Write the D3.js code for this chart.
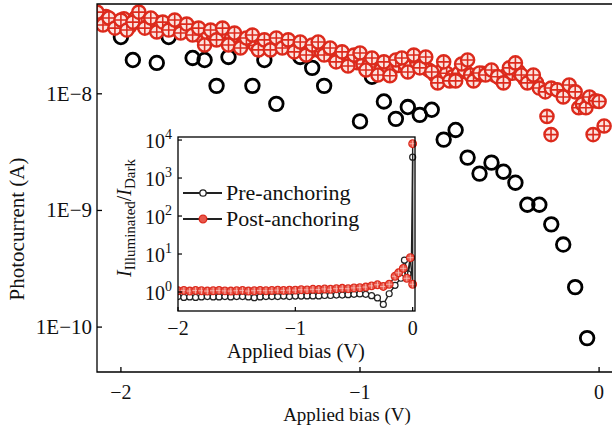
<!DOCTYPE html>
<html>
<head>
<meta charset="utf-8">
<script src="https://cdn.jsdelivr.net/npm/d3@7"></script>
<style>
body { margin: 0; background: #fff; }
text { font-family: "Liberation Serif", serif; fill: #111; }
</style>
</head>
<body>
<script>
// ---------- data (main plot: photocurrent vs bias)
var preV = [-2.00, -1.95, -1.85, -1.80, -1.70, -1.65, -1.60, -1.55, -1.45, -1.40, -1.35,
            -1.25, -1.20, -1.15, -1.00, -0.95, -0.90, -0.85, -0.80, -0.75, -0.70, -0.65,
            -0.60, -0.55, -0.50, -0.45, -0.40, -0.35, -0.30, -0.25, -0.20, -0.15, -0.10, -0.05];
var preI = [3.07e-8, 1.95e-8, 1.84e-8, 3.07e-8, 2.03e-8, 1.95e-8, 1.17e-8, 2.07e-8, 1.17e-8, 1.95e-8, 8.2e-9,
            2.07e-8, 1.67e-8, 1.17e-8, 5.8e-9, 1.40e-8, 8.6e-9, 6.1e-9, 7.7e-9, 6.6e-9, 7.3e-9, 4.05e-9,
            4.9e-9, 2.84e-9, 2.07e-9, 2.57e-9, 2.15e-9, 1.73e-9, 1.12e-9, 1.12e-9, 7.6e-10, 5.1e-10, 2.2e-10, 8.05e-11];

// post-anchoring, first sweep
var postV = [-2.100, -2.075, -2.050, -2.025, -2.000, -1.975, -1.950, -1.925, -1.900, -1.875,
             -1.850, -1.825, -1.800, -1.775, -1.750, -1.725, -1.700, -1.675, -1.650, -1.625,
             -1.600, -1.575, -1.550, -1.525, -1.500, -1.475, -1.450, -1.425, -1.400, -1.375,
             -1.350, -1.325, -1.300, -1.275, -1.250, -1.225, -1.200, -1.175, -1.150, -1.125,
             -1.100, -1.075, -1.050, -1.025, -1.000, -0.975, -0.950, -0.925, -0.900, -0.875,
             -0.850, -0.825, -0.800, -0.775, -0.750, -0.725, -0.700, -0.675, -0.650, -0.625,
             -0.600, -0.575, -0.550, -0.525, -0.500, -0.475, -0.450, -0.425, -0.400, -0.375,
             -0.350, -0.325, -0.300, -0.275, -0.250, -0.225, -0.218, -0.201, -0.200, -0.175,
             -0.150, -0.125, -0.100, -0.085, -0.070, -0.055, -0.040, -0.025, -0.015, 0.000, 0.021];
var postI = [5.02e-8, 3.89e-8, 4.47e-8, 3.66e-8, 4.29e-8, 3.52e-8, 4.12e-8, 5.02e-8, 3.66e-8, 4.47e-8,
             3.39e-8, 4.12e-8, 3.52e-8, 4.29e-8, 3.32e-8, 3.96e-8, 3.19e-8, 3.66e-8, 2.62e-8, 3.52e-8,
             2.90e-8, 3.66e-8, 2.62e-8, 3.32e-8, 2.47e-8, 3.01e-8, 3.19e-8, 2.38e-8, 2.90e-8, 2.38e-8,
             3.01e-8, 2.47e-8, 2.90e-8, 2.29e-8, 2.78e-8, 2.15e-8, 2.62e-8, 2.78e-8, 2.15e-8, 2.47e-8,
             1.88e-8, 2.29e-8, 1.73e-8, 2.15e-8, 2.24e-8, 1.60e-8, 2.03e-8, 1.45e-8, 1.88e-8, 1.43e-8,
             1.95e-8, 2.03e-8, 1.54e-8, 2.15e-8, 1.67e-8, 2.07e-8, 1.54e-8, 1.24e-8, 1.88e-8, 1.29e-8,
             1.29e-8, 1.80e-8, 1.95e-8, 1.29e-8, 1.51e-8, 1.45e-8, 1.60e-8, 1.40e-8, 1.24e-8, 1.67e-8,
             1.84e-8, 1.45e-8, 1.24e-8, 1.45e-8, 1.12e-8, 1.04e-8, 6.4e-9, 4.47e-9, 1.12e-8, 1.08e-8,
             9.4e-9, 1.19e-8, 1.04e-8, 7.6e-9, 8.2e-9, 7.6e-9, 9.4e-9, 4.47e-9, 8.7e-9, 8.6e-9, 5.3e-9];

// post-anchoring, second sweep (interleaved)
var postV2 = [-2.0875, -2.0625, -2.0375, -2.0125, -1.9875, -1.9625, -1.9375, -1.9125, -1.8875, -1.8625,
              -1.8375, -1.8125, -1.7875, -1.7625, -1.7375, -1.7125, -1.6875, -1.6625, -1.6375, -1.6125,
              -1.5875, -1.5625, -1.5375, -1.5125, -1.4875, -1.4625, -1.4375, -1.4125, -1.3875, -1.3625,
              -1.3375, -1.3125, -1.2875, -1.2625, -1.2375, -1.2125, -1.1875, -1.1625, -1.1375, -1.1125,
              -1.0875, -1.0625, -1.0375, -1.0125, -0.9875, -0.9625, -0.9375, -0.9125, -0.8875, -0.8625,
              -0.8375, -0.8125, -0.7875, -0.7625, -0.7375, -0.7125, -0.6875, -0.6625, -0.6375, -0.6125,
              -0.5875, -0.5625, -0.5375, -0.5125, -0.4875, -0.4625, -0.4375, -0.4125, -0.3875, -0.3625,
              -0.3375, -0.3125, -0.2875, -0.2625];
var postI2 = [4.1e-8, 4.6e-8, 4.0e-8, 3.9e-8, 4.4e-8, 3.8e-8, 4.5e-8, 4.0e-8, 3.8e-8, 4.2e-8,
              3.7e-8, 3.9e-8, 3.6e-8, 3.9e-8, 3.5e-8, 3.7e-8, 3.3e-8, 3.1e-8, 3.3e-8, 3.0e-8,
              3.2e-8, 2.9e-8, 3.0e-8, 2.8e-8, 2.7e-8, 2.9e-8, 2.6e-8, 2.8e-8, 2.6e-8, 2.7e-8,
              2.6e-8, 2.7e-8, 2.5e-8, 2.4e-8, 2.5e-8, 2.3e-8, 2.4e-8, 2.3e-8, 2.2e-8, 2.1e-8,
              2.0e-8, 1.95e-8, 1.9e-8, 1.85e-8, 1.8e-8, 1.75e-8, 1.7e-8, 1.6e-8, 1.65e-8, 1.7e-8,
              1.75e-8, 1.8e-8, 1.7e-8, 1.85e-8, 1.75e-8, 1.6e-8, 1.45e-8, 1.55e-8, 1.5e-8, 1.4e-8,
              1.5e-8, 1.6e-8, 1.45e-8, 1.4e-8, 1.5e-8, 1.5e-8, 1.45e-8, 1.35e-8, 1.45e-8, 1.5e-8,
              1.55e-8, 1.35e-8, 1.3e-8, 1.25e-8];

var mainXTicks = [-2, -1, 0];
var mainYTicks = [1e-8, 1e-9, 1e-10];
var mainYTickLabels = ["1E\u22128", "1E\u22129", "1E\u221210"];

// ---------- data (inset: illuminated / dark ratio)
var inPreV = [-2.00, -1.95, -1.90, -1.85, -1.80, -1.75, -1.70, -1.65, -1.60, -1.55, -1.50, -1.45,
              -1.40, -1.35, -1.30, -1.25, -1.20, -1.15, -1.10, -1.05, -1.00, -0.95, -0.90, -0.85,
              -0.80, -0.75, -0.70, -0.65, -0.60, -0.55, -0.50, -0.45, -0.40, -0.35, -0.30, -0.25,
              -0.20, -0.15, -0.10, -0.07, -0.04, -0.01, 0.00];
var inPreR = [0.76, 0.72, 0.74, 0.72, 0.74, 0.76, 0.74, 0.74, 0.76, 0.74, 0.76, 0.76,
              0.74, 0.71, 0.74, 0.76, 0.76, 0.76, 0.78, 0.76, 0.78, 0.78, 0.79, 0.79,
              0.79, 0.81, 0.81, 0.83, 0.83, 0.85, 0.87, 0.89, 0.87, 0.80, 0.70, 0.47,
              0.9, 1.5, 2.3, 6.9, 3.0, 8.0, 3550];
var inPostV = [-2.00, -1.95, -1.90, -1.85, -1.80, -1.75, -1.70, -1.65, -1.60, -1.55, -1.50, -1.45,
               -1.40, -1.35, -1.30, -1.25, -1.20, -1.15, -1.10, -1.05, -1.00, -0.95, -0.90, -0.85,
               -0.80, -0.75, -0.70, -0.65, -0.60, -0.55, -0.50, -0.45, -0.40, -0.35, -0.30, -0.25,
               -0.20, -0.15, -0.12, -0.08, -0.05, -0.02, 0.00, 0.00];
var inPostR = [1.08, 1.10, 1.06, 1.10, 1.08, 1.06, 1.08, 1.10, 1.07, 1.06, 1.08, 1.10,
               1.06, 1.08, 1.10, 1.08, 1.10, 1.12, 1.10, 1.12, 1.12, 1.15, 1.14, 1.18,
               1.16, 1.20, 1.18, 1.22, 1.25, 1.22, 1.28, 1.30, 1.35, 1.45, 1.55, 1.40,
               1.60, 2.6, 3.2, 4.2, 2.3, 8.0, 1.6, 8000];

var inXTicks = [-2, -1, 0];
var inYExp = [0, 1, 2, 3, 4];

var seriesNames = ["Pre-anchoring", "Post-anchoring"];
var red = "#dc2a1c";

// ---------- svg
var W = 612, H = 432;
var svg = d3.select("body").append("svg")
  .attr("width", W)
  .attr("height", H);

// ---------- main scales
var mL = 97, mT = 4, mB = 372, mR = 612;
var x = d3.scaleLinear().domain([-2.1, 0.054]).range([mL, mR]);
var y = d3.scaleLog().domain([Math.pow(10, -10.385), Math.pow(10, -7.23)]).range([mB, mT]);

svg.append("clipPath").attr("id", "mclip")
  .append("rect").attr("x", mL).attr("y", mT).attr("width", mR - mL + 10).attr("height", mB - mT);

var plot = svg.append("g").attr("clip-path", "url(#mclip)");

var pre = preV.map(function(v, i) { return { v: v, i: preI[i] }; });
var post = postV2.map(function(v, i) { return { v: v, i: postI2[i] }; })
  .concat(postV.map(function(v, i) { return { v: v, i: postI[i] }; }));

plot.selectAll("circle.pre")
  .data(pre)
  .enter()
  .append("circle")
  .attr("class", "pre")
  .attr("cx", function(d) { return x(d.v); })
  .attr("cy", function(d) { return y(d.i); })
  .attr("r", 6.8)
  .attr("fill", "none")
  .attr("stroke", "#000")
  .attr("stroke-width", 2.8);

// red circled-plus markers
function crossPath(cx, cy, r) {
  return "M" + (cx - r) + "," + cy + "H" + (cx + r) + "M" + cx + "," + (cy - r) + "V" + (cy + r);
}

var pg = plot.selectAll("g.post")
  .data(post)
  .enter()
  .append("g")
  .attr("class", "post");
pg.append("circle")
  .attr("cx", function(d) { return x(d.v); })
  .attr("cy", function(d) { return y(d.i); })
  .attr("r", 6.6)
  .attr("fill", "#fbe3df")
  .attr("stroke", red)
  .attr("stroke-width", 2.4);
pg.append("path")
  .attr("d", function(d) { return crossPath(x(d.v), y(d.i), 6.6); })
  .attr("stroke", red)
  .attr("stroke-width", 1.6);

// frame (right side falls outside the picture)
svg.append("path")
  .attr("d", "M" + mR + "," + mT + "H" + mL + "V" + mB + "H" + mR)
  .attr("fill", "none")
  .attr("stroke", "#000")
  .attr("stroke-width", 1.3);

// main ticks (inward)
svg.selectAll("line.mxt")
  .data(mainXTicks)
  .enter()
  .append("line")
  .attr("x1", function(d) { return x(d); })
  .attr("x2", function(d) { return x(d); })
  .attr("y1", mB)
  .attr("y2", mB - 5)
  .attr("stroke", "#000")
  .attr("stroke-width", 1.3);
svg.selectAll("text.mxl")
  .data(mainXTicks)
  .enter()
  .append("text")
  .attr("x", function(d) { return x(d); })
  .attr("y", 399)
  .attr("text-anchor", "middle")
  .attr("font-size", "20px")
  .text(function(d) { return d < 0 ? "\u2212" + Math.abs(d) : d; });

svg.selectAll("line.myt")
  .data(mainYTicks)
  .enter()
  .append("line")
  .attr("x1", mL)
  .attr("x2", mL + 5)
  .attr("y1", function(d) { return y(d); })
  .attr("y2", function(d) { return y(d); })
  .attr("stroke", "#000")
  .attr("stroke-width", 1.3);
svg.selectAll("text.myl")
  .data(mainYTicks)
  .enter()
  .append("text")
  .attr("x", 92)
  .attr("y", function(d) { return y(d) + 7; })
  .attr("text-anchor", "end")
  .attr("font-size", "21px")
  .text(function(d, i) { return mainYTickLabels[i]; });

svg.append("text")
  .attr("x", 347)
  .attr("y", 421)
  .attr("text-anchor", "middle")
  .attr("font-size", "19px")
  .text("Applied bias (V)");

svg.append("text")
  .attr("transform", "translate(24,229) rotate(-90)")
  .attr("text-anchor", "middle")
  .attr("font-size", "21px")
  .text("Photocurrent (A)");

// ---------- inset
var iL = 178, iR = 415, iT = 137, iB = 311;
var ix = d3.scaleLinear().domain([-2, 0.02]).range([iL, iR]);
var iy = d3.scaleLog().domain([Math.pow(10, -0.5), Math.pow(10, 4.08)]).range([iB, iT]);

var inset = svg.append("g");
inset.append("rect")
  .attr("x", iL).attr("y", iT)
  .attr("width", iR - iL).attr("height", iB - iT)
  .attr("fill", "#fff");

svg.append("clipPath").attr("id", "iclip")
  .append("rect").attr("x", iL).attr("y", iT - 6).attr("width", iR - iL + 6).attr("height", iB - iT + 6);
var iplot = inset.append("g").attr("clip-path", "url(#iclip)");

var ipre = inPreV.map(function(v, i) { return { v: v, r: inPreR[i] }; });
var ipost = inPostV.map(function(v, i) { return { v: v, r: inPostR[i] }; });

var iline = d3.line()
  .x(function(d) { return ix(d.v); })
  .y(function(d) { return iy(d.r); });

iplot.append("path").datum(ipre)
  .attr("d", iline)
  .attr("fill", "none")
  .attr("stroke", "#222")
  .attr("stroke-width", 1.4);
iplot.selectAll("circle.ipre")
  .data(ipre)
  .enter()
  .append("circle")
  .attr("class", "ipre")
  .attr("cx", function(d) { return ix(d.v); })
  .attr("cy", function(d) { return iy(d.r); })
  .attr("r", 3)
  .attr("fill", "#fff")
  .attr("stroke", "#222")
  .attr("stroke-width", 1.2);

iplot.append("path").datum(ipost)
  .attr("d", iline)
  .attr("fill", "none")
  .attr("stroke", "#222")
  .attr("stroke-width", 1.4);
var ipg = iplot.selectAll("g.ipost")
  .data(ipost)
  .enter()
  .append("g")
  .attr("class", "ipost");
ipg.append("circle")
  .attr("cx", function(d) { return ix(d.v); })
  .attr("cy", function(d) { return iy(d.r); })
  .attr("r", 3.8)
  .attr("fill", "#e9574b")
  .attr("stroke", red)
  .attr("stroke-width", 1.3);
ipg.append("path")
  .attr("d", function(d) { return crossPath(ix(d.v), iy(d.r), 3.2); })
  .attr("stroke", "#f8c8c0")
  .attr("stroke-width", 0.8);

inset.append("rect")
  .attr("x", iL).attr("y", iT)
  .attr("width", iR - iL).attr("height", iB - iT)
  .attr("fill", "none")
  .attr("stroke", "#000")
  .attr("stroke-width", 1.3);

// inset ticks
inset.selectAll("line.ixt")
  .data(inXTicks)
  .enter()
  .append("line")
  .attr("x1", function(d) { return ix(d); })
  .attr("x2", function(d) { return ix(d); })
  .attr("y1", iB)
  .attr("y2", iB - 4)
  .attr("stroke", "#000")
  .attr("stroke-width", 1.2);
inset.selectAll("text.ixl")
  .data(inXTicks)
  .enter()
  .append("text")
  .attr("x", function(d) { return ix(d); })
  .attr("y", 335)
  .attr("text-anchor", "middle")
  .attr("font-size", "20px")
  .text(function(d) { return d < 0 ? "\u2212" + Math.abs(d) : d; });

inset.selectAll("line.iyt")
  .data(inYExp)
  .enter()
  .append("line")
  .attr("x1", iL)
  .attr("x2", iL + 4)
  .attr("y1", function(d) { return iy(Math.pow(10, d)); })
  .attr("y2", function(d) { return iy(Math.pow(10, d)); })
  .attr("stroke", "#000")
  .attr("stroke-width", 1.2);
var iyl = inset.selectAll("text.iyl")
  .data(inYExp)
  .enter()
  .append("text")
  .attr("x", 172)
  .attr("y", function(d) { return iy(Math.pow(10, d)) + 8; })
  .attr("text-anchor", "end")
  .attr("font-size", "20px");
iyl.append("tspan").text("10");
iyl.append("tspan")
  .attr("dy", -9)
  .attr("font-size", "14px")
  .text(function(d) { return d; });

inset.append("text")
  .attr("x", 296)
  .attr("y", 358)
  .attr("text-anchor", "middle")
  .attr("font-size", "20.5px")
  .text("Applied bias (V)");

// inset y label: I_Illuminated / I_Dark
var ylab = inset.append("text")
  .attr("transform", "translate(131,218) rotate(-90)")
  .attr("text-anchor", "middle")
  .attr("font-size", "20px");
ylab.append("tspan").attr("font-style", "italic").text("I");
ylab.append("tspan").attr("font-size", "15px").attr("dy", 4).text("Illuminated");
ylab.append("tspan").attr("dy", -4).text("/");
ylab.append("tspan").attr("font-style", "italic").text("I");
ylab.append("tspan").attr("font-size", "15px").attr("dy", 4).text("Dark");

// legend
var legY = [193, 219];
var leg = inset.selectAll("g.leg")
  .data(seriesNames)
  .enter()
  .append("g")
  .attr("class", "leg");
leg.append("line")
  .attr("x1", 183).attr("x2", 222)
  .attr("y1", function(d, i) { return legY[i]; })
  .attr("y2", function(d, i) { return legY[i]; })
  .attr("stroke", "#222")
  .attr("stroke-width", 2.2);
leg.append("circle")
  .attr("cx", 203)
  .attr("cy", function(d, i) { return legY[i]; })
  .attr("r", function(d, i) { return i === 0 ? 3.2 : 3.8; })
  .attr("fill", function(d, i) { return i === 0 ? "#fff" : "#e9574b"; })
  .attr("stroke", function(d, i) { return i === 0 ? "#222" : red; })
  .attr("stroke-width", 1.3);
leg.append("text")
  .attr("x", 226)
  .attr("y", function(d, i) { return legY[i] + 7; })
  .attr("font-size", "22px")
  .text(function(d) { return d; });
</script>
</body>
</html>
